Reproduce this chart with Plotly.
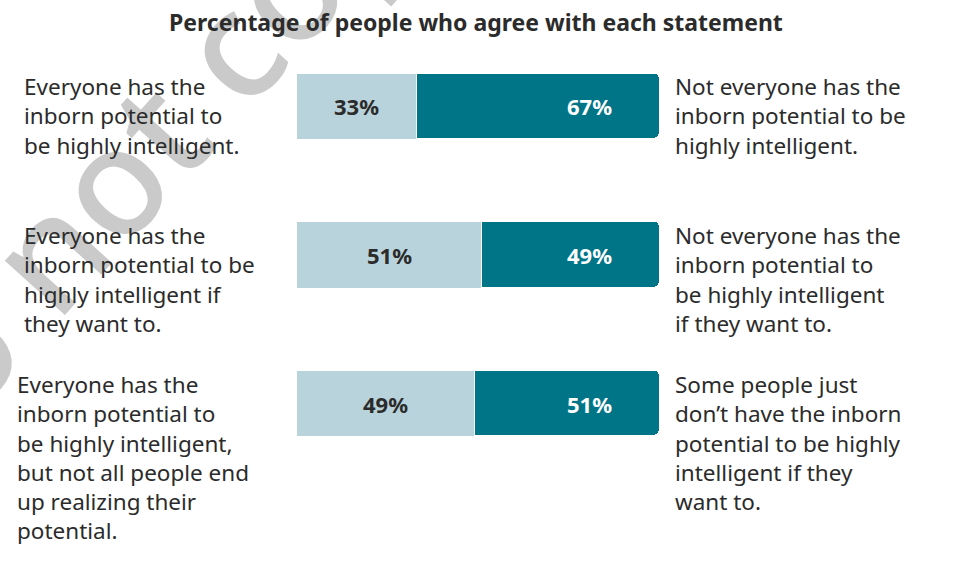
import plotly.graph_objects as go

# ---- data ----
statements = ["s1", "s2", "s3"]
agree_left = [33, 51, 49]
agree_right = [67, 49, 51]
left_labels = [
    "Everyone has the<br>inborn potential to<br>be highly intelligent.",
    "Everyone has the<br>inborn potential to be<br>highly intelligent if<br>they want to.",
    "Everyone has the<br>inborn potential to<br>be highly intelligent,<br>but not all people end<br>up realizing their<br>potential.",
]
right_labels = [
    "Not everyone has the<br>inborn potential to be<br>highly intelligent.",
    "Not everyone has the<br>inborn potential to<br>be highly intelligent<br>if they want to.",
    "Some people just<br>don’t have the inborn<br>potential to be highly<br>intelligent if they<br>want to.",
]
title_text = "Percentage of people who agree with each statement"

LIGHT = "#b9d3dc"
DARK = "#007587"
TEXT = "#2b2b2b"
FONT = "Noto Sans"

W, H = 956, 563
ML, MR, MT, MB = 297, 296, 32, 85
PW = W - ML - MR
PH = H - MT - MB

fig = go.Figure()
fig.add_trace(go.Bar(
    y=statements, x=agree_left, orientation="h", marker=dict(color=LIGHT, line=dict(width=0)),
    width=0.4377, hoverinfo="skip"))
fig.add_trace(go.Bar(
    y=statements, x=agree_right, orientation="h",
    marker=dict(color=DARK, line=dict(width=1.5, color="white")),
    width=0.4377, hoverinfo="skip"))

annotations = []
# watermark (drawn first, beneath other text)
annotations.append(dict(
    text="Do not copy", xref="paper", yref="paper",
    x=(140 - ML) / PW, y=1 - (145 - MT) / PH,
    xanchor="center", yanchor="middle", showarrow=False, textangle=-48,
    font=dict(family=FONT, size=150, weight=500, color="#cacaca")))

for i, cat in enumerate(statements):
    annotations.append(dict(
        text=f"<b>{agree_left[i]}%</b>", x=agree_left[i] / 2, y=cat, xref="x", yref="y",
        showarrow=False, font=dict(family=FONT, size=22, color=TEXT)))
    annotations.append(dict(
        text=f"<b>{agree_right[i]}%</b>", x=80.5, y=cat, xref="x", yref="y",
        showarrow=False, font=dict(family=FONT, size=22, color="white")))
    lx = 22 if i < 2 else 15
    annotations.append(dict(
        text=left_labels[i], x=(lx - ML) / PW, y=cat, xref="paper", yref="y",
        xanchor="left", yanchor="top", align="left", yshift=37, showarrow=False,
        font=dict(family=FONT, size=22.5, color=TEXT)))
    annotations.append(dict(
        text=right_labels[i], x=(673 - ML) / PW, y=cat, xref="paper", yref="y",
        xanchor="left", yanchor="top", align="left", yshift=37, showarrow=False,
        font=dict(family=FONT, size=22.5, color=TEXT)))

annotations.append(dict(
    text=f"<b>{title_text}</b>", xref="paper", yref="paper",
    x=(476 - ML) / PW, y=1 + (MT - 22) / PH, xanchor="center", yanchor="middle",
    showarrow=False, font=dict(family=FONT, size=23, color=TEXT)))

fig.update_layout(
    width=W, height=H, margin=dict(l=ML, r=MR, t=MT, b=MB),
    barmode="stack", barcornerradius=5, bargap=0,
    showlegend=False, plot_bgcolor="white", paper_bgcolor="white",
    xaxis=dict(range=[0, 100], visible=False, fixedrange=True),
    yaxis=dict(visible=False, autorange="reversed", fixedrange=True),
    annotations=annotations,
)
fig.write_html("out.html", config={"displayModeBar": False})
